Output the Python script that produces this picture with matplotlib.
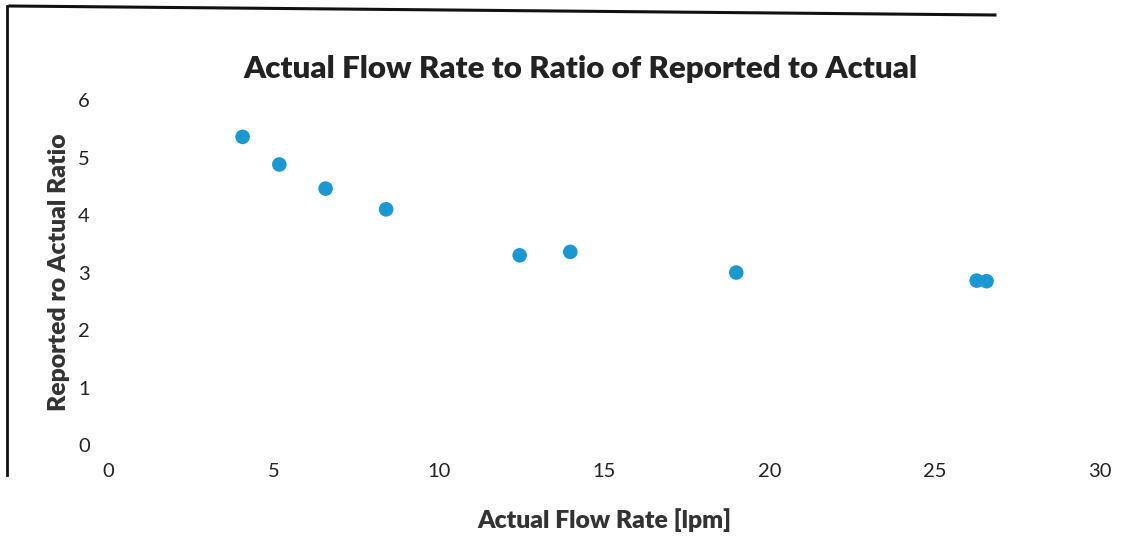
import matplotlib
matplotlib.use("Agg")
import matplotlib.pyplot as plt
from matplotlib.lines import Line2D

flow_rate = [4.07, 5.18, 6.58, 8.41, 12.45, 13.98, 19.0, 26.27, 26.57]
ratio = [5.36, 4.88, 4.46, 4.10, 3.30, 3.36, 3.00, 2.86, 2.85]
x_ticks = [0, 5, 10, 15, 20, 25, 30]
y_ticks = [0, 1, 2, 3, 4, 5, 6]

title = "Actual Flow Rate to Ratio of Reported to Actual"
xlabel = "Actual Flow Rate [lpm]"
ylabel = "Reported ro Actual Ratio"

plt.rcParams['font.family'] = ['Lato', 'DejaVu Sans']
fig = plt.figure(figsize=(11.23, 5.41), dpi=100)
ax = fig.add_axes([0.0962, 0.1774, 0.8833, 0.6376])
ax.scatter(flow_rate, ratio, s=110, color='#1a98d2', edgecolors='none', zorder=3)
ax.set_xlim(0, 30)
ax.set_ylim(0, 6)
ax.set_xticks(x_ticks)
ax.set_yticks(y_ticks)
ax.tick_params(length=0, labelsize=14.5, colors='#222222')
ax.tick_params(axis='x', pad=13)
ax.tick_params(axis='y', pad=13)
for s in ax.spines.values():
    s.set_visible(False)
ax.set_xlabel(xlabel, fontsize=17.8, fontweight='heavy', color='#333333', labelpad=20)
ax.set_ylabel(ylabel, fontsize=17.8, fontweight='heavy', color='#333333', labelpad=6)
fig.text(0.517, 0.872, title, fontsize=22.5, fontweight='heavy', color='#222222',
         ha='center', va='center')

# scanned frame border lines
fig.add_artist(Line2D([10/1123, 995/1123], [1-6/541, 1-15/541], color='#111111', lw=2.2))
fig.add_artist(Line2D([7/1123, 7/1123], [1-6/541, 1-475/541], color='#111111', lw=2.0))

fig.savefig("out.png", dpi=100)
